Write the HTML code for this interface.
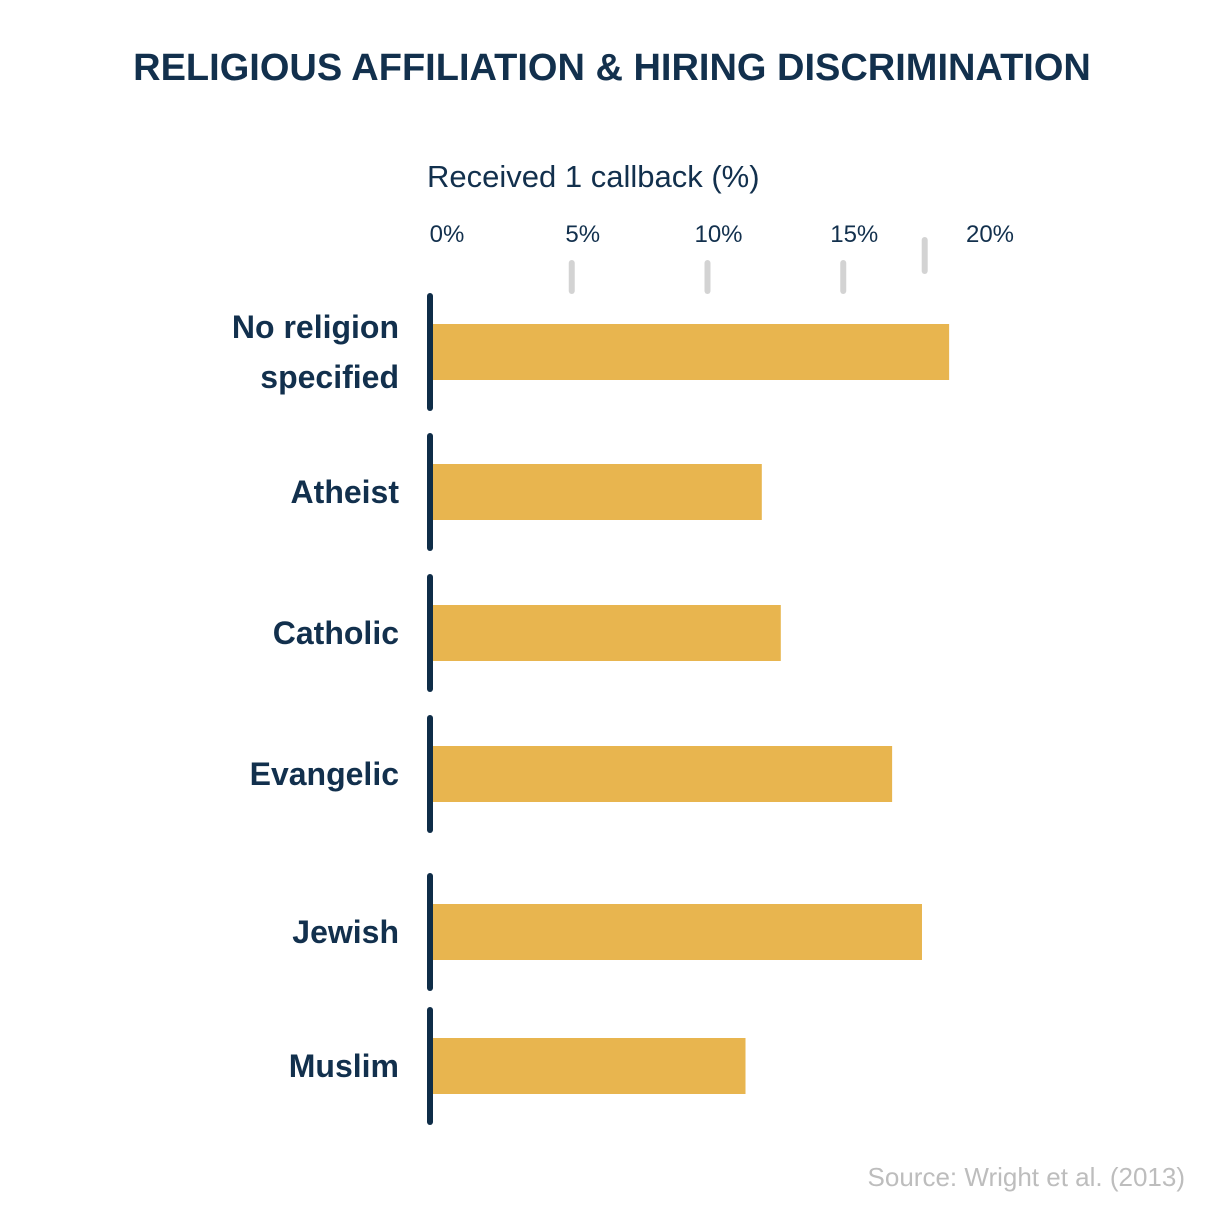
<!DOCTYPE html>
<html><head><meta charset="utf-8"><style>
body{margin:0;background:#fff;}
svg{display:block;font-family:"Liberation Sans",sans-serif;}
</style></head><body>
<svg id="chart" width="1218" height="1214">
<text x="612" y="80" text-anchor="middle" font-size="38" font-weight="bold" fill="#12304d">RELIGIOUS AFFILIATION &amp; HIRING DISCRIMINATION</text>
<text x="427" y="187" font-size="31" fill="#12304d">Received 1 callback (%)</text>
<g id="ticks"></g><g id="bars"></g>
<text x="1185" y="1186" text-anchor="end" font-size="26" fill="#bdbdbd">Source: Wright et al. (2013)</text>
</svg>
<script>
const categories=["No religion|specified","Atheist","Catholic","Evangelic","Jewish","Muslim"];
const values=[18.9,12.0,12.7,16.8,17.9,11.4];
const tickValues=[0,5,10,15,20];
const tickLabels=["0%","5%","10%","15%","20%"];
const markValues=[5,10,15,18];
const x=v=>436+v*27.15;
const centers=[352,492,633,774,932,1066];
const ns="http://www.w3.org/2000/svg";
function mk(t,a,p){const e=document.createElementNS(ns,t);for(const k in a)e.setAttribute(k,a[k]);p.appendChild(e);return e;}
const tg=document.getElementById('ticks'),bg=document.getElementById('bars');
tickValues.forEach((v,i)=>{const t=mk('text',{x:x(v)+11,y:242,'text-anchor':'middle','font-size':24,fill:'#12304d'},tg);t.textContent=tickLabels[i];

});
markValues.forEach((v,i)=>{const last=i===markValues.length-1;const l=mk('line',{x1:x(v),x2:x(v),y1:last?240:263,y2:last?271:291,stroke:'#d3d3d3','stroke-width':6,'stroke-linecap':'round'},tg);

});
categories.forEach((c,i)=>{const cy=centers[i];
const a=mk('line',{x1:430,x2:430,y1:cy-56,y2:cy+56,stroke:'#0f2d48','stroke-width':6,'stroke-linecap':'round'},bg);


const r=mk('rect',{x:433,y:cy-28,width:x(values[i])-433,height:56,fill:'#e8b54f'},bg);


const parts=c.split('|');
parts.forEach((p,j)=>{const t=mk('text',{x:399,y:cy+11+(parts.length>1?(j-0.5)*50:0),'text-anchor':'end','font-size':32,'font-weight':'bold',fill:'#12304d'},bg);t.textContent=p;

});
});
</script>
</body></html>
